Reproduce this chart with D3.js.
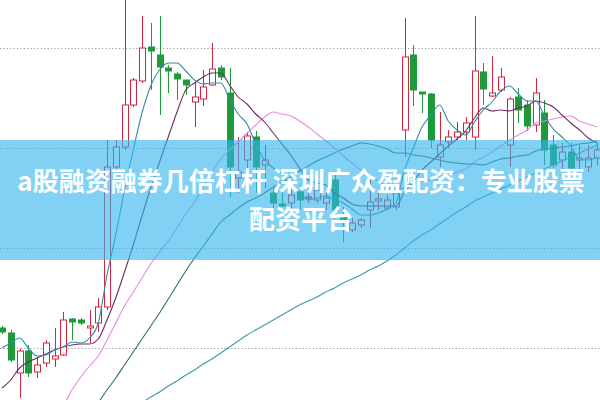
<!DOCTYPE html>
<html><head><meta charset="utf-8">
<script src="https://cdn.jsdelivr.net/npm/d3@7"></script>
<style>html,body{margin:0;padding:0;background:#fff;overflow:hidden}</style>
</head><body><svg id="c" width="600" height="400"></svg>
<script>
// ---- data (prices) ----
const openP  = [9.20,9.15,8.75,8.97,8.76,8.85,8.89,8.93,9.29,9.28,9.20,9.25,9.41,10.81,11.01,11.43,11.67,12.01,11.93,11.80,11.74,11.68,11.46,11.49,11.63,11.80,11.55,10.70,10.88,11.11,10.83,10.55,10.44,10.45,10.56,10.50,10.48,10.45,10.68,10.33,10.18,10.23,10.38,10.47,10.40,10.41,11.18,11.93,11.56,11.54,10.91,11.06,11.11,11.16,11.11,11.76,11.52,11.58,11.03,11.51,11.43,11.23,11.35,11.03,10.88,10.96,10.88,10.81,10.90];
const closeP = [9.16,8.88,8.97,8.75,8.83,9.05,8.92,9.28,9.26,9.25,9.22,9.41,10.81,11.01,11.43,11.68,12.00,11.97,11.81,11.77,11.69,11.63,11.51,11.61,11.79,11.71,10.81,10.76,11.12,10.81,10.88,10.45,10.42,10.53,10.48,10.51,10.58,10.50,10.38,10.26,10.25,10.28,10.46,10.49,10.48,10.55,11.91,11.58,11.54,11.08,11.03,11.11,11.16,11.25,11.77,11.59,11.55,11.71,11.49,11.38,11.22,11.55,10.98,10.83,10.96,10.80,10.90,10.90,10.98];
const highP  = [9.22,9.18,8.99,9.03,8.90,9.08,9.20,9.36,9.30,9.30,9.38,9.50,11.08,11.08,12.55,11.70,12.32,12.25,12.32,11.83,11.76,11.68,11.65,11.78,12.05,11.83,11.80,11.11,11.15,11.17,11.03,10.60,10.56,10.58,10.63,10.61,10.63,10.58,10.73,10.41,10.30,10.30,10.73,10.58,10.53,10.63,12.30,12.03,11.56,11.55,11.36,11.18,11.26,11.31,12.32,11.85,11.92,11.80,11.51,11.60,11.48,11.70,11.48,11.13,11.05,11.05,11.03,11.03,11.05];
const lowP   = [9.14,8.86,8.50,8.71,8.70,8.81,8.81,8.92,9.08,9.23,9.05,9.16,9.38,10.78,10.98,11.41,11.65,11.58,11.33,11.55,11.48,11.53,11.21,11.42,11.62,11.68,10.51,10.55,10.63,10.55,10.60,10.40,10.41,10.40,10.38,10.45,10.45,10.38,10.31,10.06,10.16,10.20,10.20,10.38,10.38,10.38,10.91,11.42,11.35,11.00,10.81,11.00,11.08,11.08,10.98,11.43,11.51,11.56,10.81,11.25,11.17,11.16,10.83,10.80,10.76,10.76,10.76,10.76,10.83];

const ma5  = [9.00,9.05,9.10,9.00,8.92,8.93,8.98,9.01,9.06,9.05,9.10,9.25,9.73,10.13,10.58,10.98,11.35,11.62,11.78,11.85,11.85,11.77,11.68,11.64,11.65,11.65,11.49,11.34,11.24,11.04,10.88,10.80,10.74,10.62,10.55,10.48,10.50,10.52,10.49,10.45,10.39,10.33,10.33,10.35,10.39,10.45,10.78,11.00,11.21,11.33,11.43,11.27,11.18,11.13,11.26,11.38,11.46,11.57,11.62,11.54,11.47,11.47,11.32,11.19,11.11,11.02,10.89,10.88,10.91];
const ma10 = [8.60,8.68,8.80,8.86,8.90,8.94,8.98,9.01,9.03,9.04,9.04,9.09,9.28,9.50,9.76,10.03,10.32,10.60,10.86,11.11,11.36,11.58,11.65,11.71,11.75,11.75,11.63,11.51,11.44,11.34,11.26,11.15,11.04,10.93,10.80,10.68,10.65,10.63,10.55,10.50,10.44,10.42,10.42,10.42,10.42,10.42,10.56,10.66,10.78,10.86,10.94,11.02,11.09,11.17,11.30,11.40,11.37,11.38,11.37,11.40,11.42,11.47,11.45,11.41,11.33,11.25,11.18,11.10,11.05];
const ma20 = [null,null,null,null,null,null,8.30,8.42,8.58,8.71,8.82,8.92,9.08,9.25,9.42,9.56,9.70,9.84,9.96,10.07,10.20,10.34,10.46,10.61,10.76,10.89,10.98,11.06,11.15,11.23,11.31,11.36,11.34,11.32,11.27,11.21,11.14,11.07,11.00,10.92,10.85,10.78,10.73,10.67,10.61,10.55,10.61,10.65,10.67,10.68,10.69,10.72,10.76,10.79,10.86,10.91,10.96,11.02,11.08,11.13,11.18,11.25,11.27,11.29,11.31,11.32,11.27,11.24,11.21];
const ma30 = [null,null,null,null,null,null,null,null,null,null,null,8.45,8.58,8.70,8.83,8.96,9.09,9.22,9.35,9.49,9.63,9.77,9.90,10.02,10.14,10.26,10.33,10.40,10.46,10.50,10.55,10.61,10.66,10.71,10.77,10.82,10.87,10.91,10.95,10.99,11.02,11.05,11.04,11.02,10.99,10.95,10.95,10.93,10.92,10.90,10.88,10.86,10.85,10.84,10.84,10.83,10.86,10.89,10.90,10.92,10.93,10.97,10.99,11.00,11.01,11.02,11.04,11.05,11.07];
const ma60 = [null,null,null,null,null,null,null,null,null,null,null,null,null,null,null,null,8.45,8.51,8.56,8.62,8.67,8.73,8.78,8.84,8.89,8.95,9.01,9.07,9.13,9.18,9.23,9.28,9.33,9.38,9.43,9.47,9.51,9.56,9.60,9.65,9.69,9.73,9.78,9.82,9.87,9.93,10.00,10.07,10.13,10.18,10.24,10.30,10.36,10.41,10.47,10.51,10.55,10.59,10.63,10.67,10.71,10.75,10.79,10.83,10.87,10.91,10.95,10.99,11.03];

const gridTicks = [9, 10, 11, 12];
const titleLines = ["a股融资融券几倍杠杆 深圳广众盈配资：专业股票", "配资平台"];

// ---- drawing ----
const W = 600, H = 400;
const svg = d3.select("#c");
const n = openP.length;
const x = d3.scaleLinear().domain([0, n - 1]).range([2, 597]);
const y = d3.scaleLinear().domain([8.48, 12.48]).range([H, 0]);

// dotted grid
const grid = svg.append("g").call(d3.axisLeft(y).tickValues(gridTicks).tickSize(-W).tickFormat(""));
grid.select(".domain").remove();
grid.selectAll(".tick line").attr("stroke", "#9a9a9a").attr("stroke-dasharray", "1.2,2.2").attr("stroke-width", 1);

const RED = "#d2263c", GREEN = "#1f9a3a";
const bw = 6;
const idx = d3.range(n);
const cg = svg.append("g");
idx.forEach(i => {
  const up = closeP[i] >= openP[i];
  const col = up ? RED : GREEN;
  const cx = Math.round(x(i)) + 0.5;
  const top = y(Math.max(openP[i], closeP[i]));
  const bot = y(Math.min(openP[i], closeP[i]));
  cg.append("line").attr("x1", cx).attr("x2", cx).attr("y1", y(highP[i])).attr("y2", y(lowP[i]))
    .attr("stroke", col).attr("stroke-width", 1);
  cg.append("rect").attr("x", cx - bw / 2).attr("y", top).attr("width", bw).attr("height", Math.max(1, bot - top))
    .attr("fill", up ? "#ffffff" : col).attr("stroke", col).attr("stroke-width", 1);
});

const lineGen = d3.line().defined(d => d != null).x((d, i) => x(i)).y(d => y(d)).curve(d3.curveMonotoneX);
const mas = [
  {v: ma60, c: "#3c9aa6"},
  {v: ma30, c: "#2f6f66"},
  {v: ma20, c: "#e48ae6"},
  {v: ma10, c: "#6e2a5e"},
  {v: ma5,  c: "#2e8fa6"}
];
mas.forEach(m => {
  svg.append("path").datum(m.v).attr("d", lineGen).attr("fill", "none")
    .attr("stroke", m.c).attr("stroke-width", 1.1);
});

// banner overlay
svg.append("rect").attr("x", 0).attr("y", 140).attr("width", W).attr("height", 120)
  .attr("fill", "rgb(50,180,235)").attr("fill-opacity", 0.62);
svg.selectAll("text.title").data(titleLines).enter().append("text")
  .attr("class", "title")
  .attr("x", 301).attr("y", (d, i) => 191 + i * 38)
  .attr("text-anchor", "middle")
  .attr("fill", "#ffffff")
  .attr("font-family", "'Noto Sans CJK SC', 'Noto Sans', sans-serif")
  .attr("font-weight", "bold").attr("font-size", 26)
  .text(d => d);
</script></body></html>
